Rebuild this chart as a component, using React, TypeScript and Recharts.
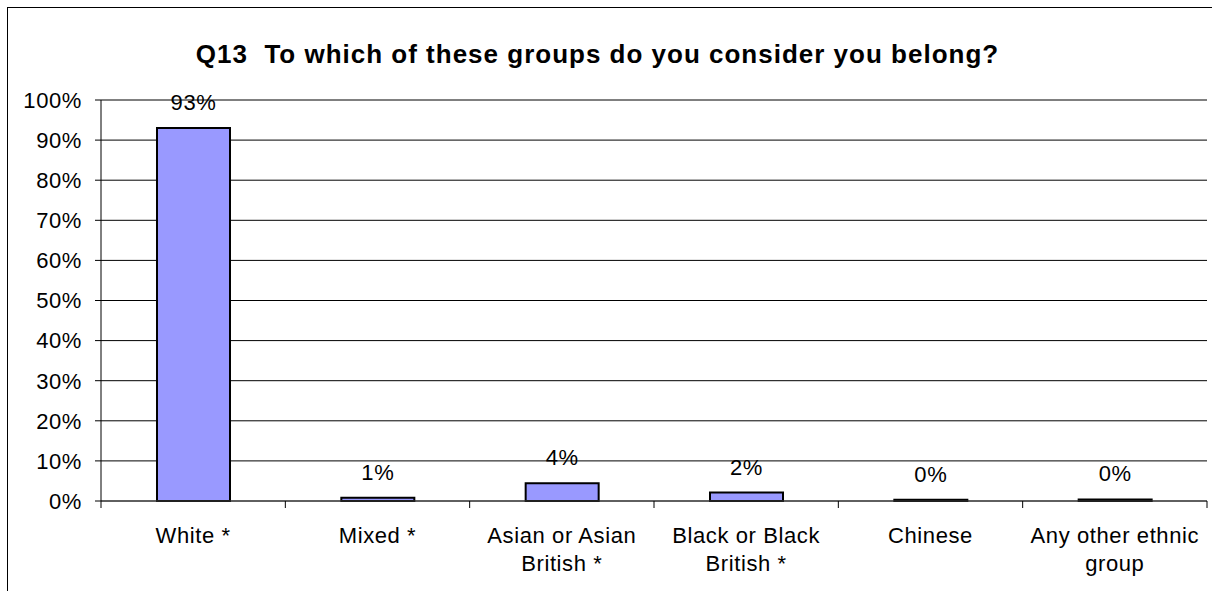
import React from 'react';
import { BarChart, Bar, XAxis, YAxis, CartesianGrid, LabelList } from 'recharts';

const title = 'Q13  To which of these groups do you consider you belong?';
const categories = [
  'White *',
  'Mixed *',
  'Asian or Asian\nBritish *',
  'Black or Black\nBritish *',
  'Chinese',
  'Any other ethnic\ngroup',
];
const values = [93, 0.8, 4.4, 2.1, 0.3, 0.4];
const yTicks = [0, 10, 20, 30, 40, 50, 60, 70, 80, 90, 100];

const data = categories.map((c, i) => ({ category: c, value: values[i] }));

const FONT = '"Liberation Sans", Arial, Helvetica, sans-serif';
const textStyle = { fontFamily: FONT, fontSize: 22, fill: '#000', letterSpacing: 0.6 };

const XTick = (props: any) => {
  const { x, y, payload, index, visibleTicksCount, width } = props;
  const count = visibleTicksCount || categories.length;
  const band = (width || 1106) / count;
  const lines = String(payload.value).split('\n');
  return (
    <g>
      <line x1={x - band / 2} x2={x - band / 2} y1={y} y2={y + 7} stroke="#000" strokeWidth={1} />
      {index === count - 1 && (
        <line x1={x + band / 2} x2={x + band / 2} y1={y} y2={y + 7} stroke="#000" strokeWidth={1} />
      )}
      <text x={x} y={y + 42} textAnchor="middle" style={textStyle as any}>
        {lines.map((l, i) => (
          <tspan key={i} x={x} dy={i === 0 ? 0 : 28}>
            {l}
          </tspan>
        ))}
      </text>
    </g>
  );
};

export default function App() {
  return (
    <div style={{ position: 'absolute', left: 0, top: 0, width: 1212, height: 591, background: '#fff', overflow: 'hidden' }}>
      <div
        style={{
          position: 'absolute',
          left: 7,
          top: 7,
          width: 1205,
          height: 584,
          borderTop: '1px solid #000',
          borderLeft: '1px solid #000',
          boxSizing: 'border-box',
        }}
      />
      <div
        style={{
          position: 'absolute',
          left: 0,
          top: 41,
          width: 1195,
          textAlign: 'center',
          fontFamily: FONT,
          fontWeight: 'bold',
          fontSize: 26,
          lineHeight: '26px',
          letterSpacing: 1,
          color: '#000',
          whiteSpace: 'pre',
        }}
      >
        {title}
      </div>
      <div style={{ position: 'absolute', left: 0, top: 0 }}>
        <BarChart
          width={1212}
          height={591}
          data={data}
          margin={{ top: 100, right: 5, bottom: 0, left: 41 }}
        >
          <CartesianGrid vertical={false} stroke="#000" strokeWidth={1} />
          <XAxis
            dataKey="category"
            height={90}
            interval={0}
            tickLine={false}
            tickSize={0}
            tickMargin={0}
            axisLine={{ stroke: '#404040', strokeWidth: 1 }}
            tick={<XTick />}
          />
          <XAxis
            xAxisId="top"
            dataKey="category"
            orientation="top"
            height={0}
            tick={false}
            tickLine={false}
            axisLine={{ stroke: '#c0c0c0', strokeWidth: 2 }}
          />
          <YAxis
            width={60}
            domain={[0, 100]}
            ticks={yTicks}
            interval={0}
            tickFormatter={(v: number) => `${v}%`}
            tickSize={6}
            tickMargin={13}
            tickLine={{ stroke: '#000' }}
            axisLine={{ stroke: '#000', strokeWidth: 1 }}
            tick={textStyle}
          />
          <YAxis
            yAxisId="right"
            orientation="right"
            width={0}
            domain={[0, 100]}
            tick={false}
            tickLine={false}
            axisLine={{ stroke: '#c0c0c0', strokeWidth: 2 }}
          />
          <Bar
            dataKey="value"
            fill="#9999FF"
            stroke="#000"
            strokeWidth={2}
            barSize={73}
            isAnimationActive={false}
          >
            <LabelList
              dataKey="value"
              position="top"
              offset={18}
              formatter={(v: any) => `${Math.round(Number(v))}%`}
              fill="#000"
              style={textStyle as any}
            />
          </Bar>
        </BarChart>
      </div>
    </div>
  );
}
